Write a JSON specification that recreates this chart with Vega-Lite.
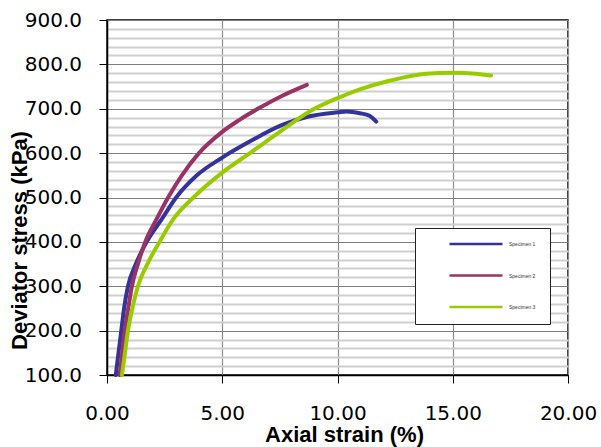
{
  "$schema": "https://vega.github.io/schema/vega-lite/v6.json",
  "width": 461,
  "height": 355,
  "autosize": {"type": "none"},
  "padding": {"left": 107, "top": 20, "right": 33, "bottom": 72},
  "background": "white",
  "config": {
    "view": {"stroke": "#000000", "strokeWidth": 1.5},
    "font": "Liberation Sans"
  },
  "data": {
    "values": [
      {"specimen": "Specimen 1", "strain": 0.38, "stress": 100},
      {"specimen": "Specimen 1", "strain": 0.5, "stress": 150},
      {"specimen": "Specimen 1", "strain": 0.62, "stress": 200},
      {"specimen": "Specimen 1", "strain": 0.74, "stress": 250},
      {"specimen": "Specimen 1", "strain": 0.91, "stress": 300},
      {"specimen": "Specimen 1", "strain": 1.25, "stress": 350},
      {"specimen": "Specimen 1", "strain": 1.72, "stress": 400},
      {"specimen": "Specimen 1", "strain": 2.36, "stress": 450},
      {"specimen": "Specimen 1", "strain": 3.0, "stress": 500},
      {"specimen": "Specimen 1", "strain": 3.9, "stress": 550},
      {"specimen": "Specimen 1", "strain": 5.0, "stress": 590},
      {"specimen": "Specimen 1", "strain": 6.19, "stress": 626},
      {"specimen": "Specimen 1", "strain": 7.63, "stress": 664},
      {"specimen": "Specimen 1", "strain": 8.79, "stress": 683},
      {"specimen": "Specimen 1", "strain": 10.03, "stress": 692},
      {"specimen": "Specimen 1", "strain": 10.38, "stress": 694},
      {"specimen": "Specimen 1", "strain": 10.97, "stress": 690},
      {"specimen": "Specimen 1", "strain": 11.39, "stress": 684},
      {"specimen": "Specimen 1", "strain": 11.68, "stress": 671},
      {"specimen": "Specimen 2", "strain": 0.55, "stress": 100},
      {"specimen": "Specimen 2", "strain": 0.66, "stress": 150},
      {"specimen": "Specimen 2", "strain": 0.77, "stress": 200},
      {"specimen": "Specimen 2", "strain": 0.92, "stress": 250},
      {"specimen": "Specimen 2", "strain": 1.08, "stress": 300},
      {"specimen": "Specimen 2", "strain": 1.34, "stress": 350},
      {"specimen": "Specimen 2", "strain": 1.66, "stress": 400},
      {"specimen": "Specimen 2", "strain": 2.14, "stress": 450},
      {"specimen": "Specimen 2", "strain": 2.65, "stress": 500},
      {"specimen": "Specimen 2", "strain": 3.25, "stress": 550},
      {"specimen": "Specimen 2", "strain": 3.99, "stress": 600},
      {"specimen": "Specimen 2", "strain": 5.0, "stress": 648},
      {"specimen": "Specimen 2", "strain": 5.75, "stress": 675},
      {"specimen": "Specimen 2", "strain": 6.62, "stress": 702},
      {"specimen": "Specimen 2", "strain": 7.63, "stress": 730},
      {"specimen": "Specimen 2", "strain": 8.67, "stress": 754},
      {"specimen": "Specimen 3", "strain": 0.65, "stress": 100},
      {"specimen": "Specimen 3", "strain": 0.78, "stress": 150},
      {"specimen": "Specimen 3", "strain": 0.91, "stress": 200},
      {"specimen": "Specimen 3", "strain": 1.1, "stress": 250},
      {"specimen": "Specimen 3", "strain": 1.34, "stress": 300},
      {"specimen": "Specimen 3", "strain": 1.75, "stress": 350},
      {"specimen": "Specimen 3", "strain": 2.28, "stress": 400},
      {"specimen": "Specimen 3", "strain": 2.86, "stress": 450},
      {"specimen": "Specimen 3", "strain": 3.75, "stress": 500},
      {"specimen": "Specimen 3", "strain": 5.0, "stress": 556},
      {"specimen": "Specimen 3", "strain": 6.2, "stress": 600},
      {"specimen": "Specimen 3", "strain": 7.63, "stress": 653},
      {"specimen": "Specimen 3", "strain": 8.79, "stress": 694},
      {"specimen": "Specimen 3", "strain": 10.01, "stress": 724},
      {"specimen": "Specimen 3", "strain": 11.0, "stress": 744},
      {"specimen": "Specimen 3", "strain": 12.25, "stress": 763},
      {"specimen": "Specimen 3", "strain": 13.84, "stress": 779},
      {"specimen": "Specimen 3", "strain": 15.0, "stress": 781},
      {"specimen": "Specimen 3", "strain": 16.0, "stress": 779},
      {"specimen": "Specimen 3", "strain": 16.66, "stress": 775}
    ]
  },
  "mark": {"type": "line", "strokeWidth": 4, "strokeCap": "round", "strokeJoin": "round", "interpolate": "monotone"},
  "encoding": {
    "x": {
      "field": "strain",
      "type": "quantitative",
      "scale": {"domain": [0, 20], "nice": false, "zero": false},
      "axis": {
        "title": "Axial strain (%)",
        "values": [0, 5, 10, 15, 20],
        "format": ".2f",
        "labelFont": "DejaVu Sans",
        "labelFontSize": 20,
        "labelColor": "#000000",
        "labelPadding": 20,
        "labelOverlap": false,
        "labelFlush": false,
        "labelBound": false,
        "tickSize": 8,
        "tickColor": "#000000",
        "tickWidth": 1,
        "domainColor": "#000000",
        "domainWidth": 1.5,
        "grid": true,
        "gridColor": "#8c8c8c",
        "gridWidth": 1.2,
        "titleFont": "Liberation Sans",
        "titleFontSize": 22,
        "titleFontWeight": "bold",
        "titleColor": "#000000",
        "titleX": 237,
        "titleY": 66,
        "titleBaseline": "alphabetic",
        "titleAlign": "center"
      }
    },
    "y": {
      "field": "stress",
      "type": "quantitative",
      "scale": {"domain": [100, 900], "nice": false, "zero": false},
      "axis": {
        "title": "Deviator stress (kPa)",
        "values": [100, 120, 140, 160, 180, 200, 220, 240, 260, 280, 300, 320, 340, 360, 380, 400, 420, 440, 460, 480, 500, 520, 540, 560, 580, 600, 620, 640, 660, 680, 700, 720, 740, 760, 780, 800, 820, 840, 860, 880, 900],
        "labelExpr": "datum.value % 100 === 0 ? format(datum.value, '.1f') : ''",
        "labelFont": "DejaVu Sans",
        "labelFontSize": 20,
        "labelColor": "#000000",
        "labelPadding": 17.5,
        "labelOverlap": false,
        "labelBound": false,
        "labelFlush": false,
        "tickSize": 8,
        "tickColor": "#000000",
        "tickWidth": 1,
        "tickOpacity": {"condition": {"test": "datum.value % 100 === 0", "value": 1}, "value": 0},
        "domainColor": "#000000",
        "domainWidth": 1.5,
        "grid": true,
        "gridColor": {"condition": {"test": "datum.value % 100 === 0", "value": "#7f7f7f"}, "value": "#cfcfcf"},
        "gridWidth": {"condition": {"test": "datum.value % 100 === 0", "value": 1.2}, "value": 2},
        "titleFont": "Liberation Sans",
        "titleFontSize": 22,
        "titleFontWeight": "bold",
        "titleColor": "#000000",
        "titleAngle": -90,
        "titleX": -80.5,
        "titleY": 220,
        "titleBaseline": "alphabetic",
        "titleAlign": "center"
      }
    },
    "color": {
      "field": "specimen",
      "type": "nominal",
      "scale": {"domain": ["Specimen 1", "Specimen 2", "Specimen 3"], "range": ["#333399", "#993366", "#99cc00"]},
      "legend": {
        "title": null,
        "orient": "none",
        "legendX": 308,
        "legendY": 208,
        "fillColor": "#ffffff",
        "strokeColor": "#222222",
        "padding": 14,
        "symbolType": "stroke",
        "symbolSize": 2809,
        "symbolStrokeWidth": 2.5,
        "symbolOffset": 19,
        "clipHeight": 4,
        "rowPadding": 26.5,
        "labelOffset": 5,
        "labelFont": "Liberation Sans",
        "labelFontSize": 5,
        "labelColor": "#333333",
        "labelExpr": "datum.label + '\u00a0\u00a0\u00a0\u00a0'"
      }
    }
  }
}
